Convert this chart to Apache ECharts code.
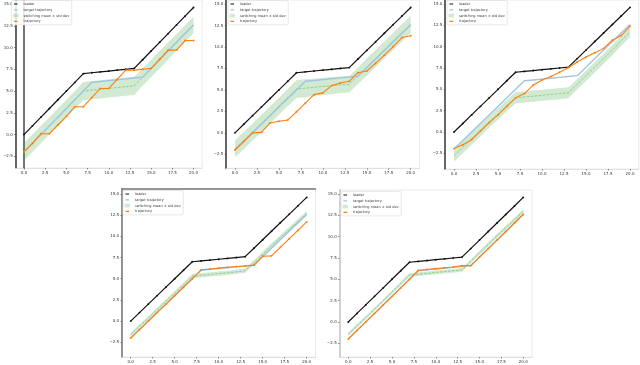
<!DOCTYPE html>
<html><head><meta charset="utf-8">
<script src="https://cdn.jsdelivr.net/npm/echarts@6/dist/echarts.min.js"></script>
<style>html,body{margin:0;padding:0;background:#fff}#c{width:640px;height:365px}</style>
</head><body><div id="c"></div>
<script>
// ---- data ----
const T = [0,1,2,3,4,5,6,7,8,9,10,11,12,13,14,15,16,17,18,19,20];
const xTicks = [0,2.5,5,7.5,10,12.5,15,17.5,20];
const yTicks = [-2.5,0,2.5,5,7.5,10,12.5,15];
const legendNames = ['leader','target trajectory','switching mean ± std dev','trajectory'];

const leader = [0,1,2,3,4,5,6,7,7.1,7.2,7.3,7.4,7.5,7.6,8.6,9.6,10.6,11.6,12.6,13.6,14.6];
const target = [-2,-1,0,1,2,3,4,5,6,6.1,6.2,6.3,6.4,6.5,6.6,7.6,8.6,9.6,10.6,11.6,12.6];

const mean1 = [-2,-1,0,1,2,3,4,5,5.1,5.2,5.3,5.4,5.5,5.6,6.6,7.6,8.6,9.6,10.6,11.6,12.6];
const std1  = [1.0,1.0,1.0,1.0,1.0,1.0,1.0,1.05,1.05,1.05,1.05,1.05,1.05,1.05,1.0,1.0,1.0,1.0,0.95,0.95,0.95];
const traj1 = [-2.0,-1.0,0.1,0.1,1.1,2.1,3.2,3.2,4.25,5.3,5.3,6.35,7.4,7.4,7.5,7.6,8.65,9.7,9.7,10.8,10.8];

const mean2 = [-1.85,-0.9,0.1,1.1,2.1,3.1,4.1,5.1,5.2,5.3,5.4,5.5,5.6,5.65,6.65,7.65,8.65,9.65,10.65,11.65,12.65];
const std2  = [1.0,1.0,1.0,1.0,1.0,1.0,1.0,1.05,1.05,1.0,1.0,1.0,0.95,0.95,0.95,1.0,1.0,1.0,1.0,1.0,1.0];
const traj2 = [-2.0,-1.0,0.0,0.05,1.15,1.35,1.5,2.45,3.45,4.45,4.65,5.5,5.8,6.0,7.0,7.2,8.1,9.05,10.05,11.1,11.3];

const mean3 = [-2.8,-1.8,-0.8,0.2,1.2,2.1,3.1,4.0,4.1,4.2,4.3,4.4,4.5,4.6,5.6,6.6,7.6,8.6,9.6,10.7,11.7];
const std3  = [0.7,0.7,0.7,0.7,0.68,0.68,0.66,0.65,0.65,0.65,0.65,0.65,0.65,0.65,0.62,0.62,0.62,0.6,0.6,0.6,0.6];
const traj3 = [-1.95,-1.5,-0.9,0.1,1.1,2.0,3.0,4.0,4.5,5.5,6.1,6.5,7.0,7.55,8.2,8.8,9.3,9.8,10.75,11.3,12.4];

const mean4 = [-1.6,-0.6,0.35,1.35,2.35,3.3,4.3,5.3,5.4,5.5,5.6,5.7,5.8,5.95,6.9,7.9,8.9,9.85,10.8,11.75,12.7];
const std4  = [0.22,0.22,0.22,0.23,0.23,0.24,0.24,0.25,0.25,0.25,0.25,0.25,0.25,0.25,0.27,0.28,0.28,0.28,0.3,0.3,0.3];
const traj4 = [-2,-1,0,1,2,3,4,5,6.05,6.15,6.25,6.35,6.45,6.5,6.6,7.65,7.7,8.7,9.7,10.7,11.7];

const mean5 = [-1.45,-0.45,0.5,1.5,2.5,3.5,4.5,5.5,5.6,5.7,5.8,5.9,6.0,6.1,7.1,8.1,9.1,10.1,11.05,12.0,12.95];
const std5  = [0.2,0.2,0.2,0.2,0.2,0.2,0.22,0.22,0.22,0.22,0.22,0.22,0.22,0.22,0.22,0.22,0.24,0.24,0.24,0.24,0.25];
const traj5 = [-2,-1,0,1,2,3,4,5,6.05,6.15,6.25,6.35,6.45,6.6,6.6,7.6,8.6,9.6,10.6,11.6,12.6];

// ---- layout / styles ----
const FONT = 'DejaVu Sans';
const C_LEADER = '#111111', C_TARGET = '#9fc5e0', C_TRAJ = '#ff7f0e';
const C_FILL = 'rgba(44,160,44,0.22)', C_MEAN = 'rgba(44,160,44,0.5)';
const LINE_ICON = 'path://M0,0L0.001,0L0,0.001Z M0,3.4L10,3.4L10,6.6L0,6.6Z M10,10L9.999,10L10,9.999Z';

const panels = [
  {grid:{left:10, top:0, width:192, height:168}, y:[-3.84,15.46], mean:mean1, std:std1, traj:traj1, leg:[11.5,0.5], left:'#555'},
  {grid:{left:226.2, top:0, width:193.3, height:168.3}, y:[-4.13,15.47], mean:mean2, std:std2, traj:traj2, leg:[228,0.5], left:'#555'},
  {grid:{left:445.2, top:0, width:193.6, height:169}, y:[-4.34,15.47], mean:mean3, std:std3, traj:traj3, leg:[447,0.5], left:'#555'},
  {grid:{left:121.9, top:189, width:193.6, height:168}, y:[-4.24,15.59], mean:mean4, std:std4, traj:traj4, leg:[123,190.5], left:'#888'},
  {grid:{left:339.5, top:190, width:192.5, height:167}, y:[-4.11,15.47], mean:mean5, std:std5, traj:traj5, leg:[341,191.5], left:'#cfcfcf'}
];

const pairs = ys => T.map((t,i)=>[t, ys[i]]);
const fmt = v => (v < 0 ? '\u2212' : '') + Math.abs(v).toFixed(1);

const grids = [], xAxes = [], yAxes = [], series = [], legends = [];
panels.forEach((p,i) => {
  grids.push(Object.assign({show:true, borderColor:'#e4e4e4', borderWidth:0.8, containLabel:false}, p.grid));
  xAxes.push({type:'value', gridIndex:i, min:-1, max:21,
    axisLine:{show:true, onZero:false, lineStyle:{color:'#dcdcdc', width:0.8}},
    axisTick:{show:true, customValues:xTicks, length:1.5, lineStyle:{color:'#444', width:0.6}},
    axisLabel:{customValues:xTicks, formatter:v=>v.toFixed(1), fontSize:4, margin:2.8, color:'#333', fontFamily:FONT},
    splitLine:{show:false}});
  yAxes.push({type:'value', gridIndex:i, min:p.y[0], max:p.y[1],
    axisLine:{show:true, onZero:false, lineStyle:{color:p.left, width:1.8}},
    axisTick:{show:true, customValues:yTicks, length:1.5, lineStyle:{color:'#444', width:0.6}},
    axisLabel:{customValues:yTicks, formatter:fmt, fontSize:4, margin:2.8, color:'#333', fontFamily:FONT},
    splitLine:{show:false}});
  const bandData = T.map((t,k)=>[t, p.mean[k] - p.std[k], p.mean[k] + p.std[k]]);
  const base = {xAxisIndex:i, yAxisIndex:i, animation:false, silent:true};
  series.push(Object.assign({}, base, {type:'custom', name:'switching mean ± std dev', data:bandData, clip:true,
    encode:{x:0, y:[1,2]}, itemStyle:{color:C_FILL}, z:2,
    renderItem:(params, api) => {
      if (params.dataIndex !== 0) return null;
      const up = [], dn = [];
      for (let k = 0; k < bandData.length; k++) {
        up.push(api.coord([bandData[k][0], bandData[k][2]]));
        dn.push(api.coord([bandData[k][0], bandData[k][1]]));
      }
      return {type:'polygon', shape:{points:up.concat(dn.reverse())}, style:{fill:C_FILL}};
    }}));
  series.push(Object.assign({}, base, {type:'line', name:'_mean'+i, data:pairs(p.mean), symbol:'none',
    lineStyle:{color:C_MEAN, width:0.8, type:[2.5,1.5]}, z:3}));
  series.push(Object.assign({}, base, {type:'line', name:'target trajectory', data:pairs(target), symbol:'none',
    lineStyle:{color:C_TARGET, width:1.4}, itemStyle:{color:C_TARGET}, z:4}));
  series.push(Object.assign({}, base, {type:'line', name:'leader', data:pairs(leader), symbol:'circle', symbolSize:1.9, showSymbol:true,
    lineStyle:{color:C_LEADER, width:1.2}, itemStyle:{color:C_LEADER}, z:5}));
  series.push(Object.assign({}, base, {type:'line', name:'trajectory', data:pairs(p.traj), symbol:'circle', symbolSize:1.9, showSymbol:true,
    lineStyle:{color:C_TRAJ, width:1.1}, itemStyle:{color:C_TRAJ}, z:6}));
  legends.push({show:true, orient:'vertical', left:p.leg[0], top:p.leg[1], itemWidth:5.5, itemHeight:3.6, itemGap:1.8,
    padding:[1.5,2.5,1.5,1.5], backgroundColor:'rgba(255,255,255,0.85)', borderColor:'#d8d8d8', borderWidth:0.6, borderRadius:1.5,
    selectedMode:false, textStyle:{fontSize:3.5, color:'#444', fontFamily:FONT},
    data:[
      {name:'leader', icon:LINE_ICON, itemStyle:{color:C_LEADER, borderWidth:0}},
      {name:'target trajectory', icon:LINE_ICON, itemStyle:{color:C_TARGET, borderWidth:0}},
      {name:'switching mean ± std dev', icon:'rect', itemStyle:{color:C_FILL, borderWidth:0}},
      {name:'trajectory', icon:LINE_ICON, itemStyle:{color:C_TRAJ, borderWidth:0}}
    ]});
});
// extra spines: right of panel 1, top of panel 4
yAxes.push({type:'value', gridIndex:0, position:'right', min:panels[0].y[0], max:panels[0].y[1],
  axisLine:{show:true, lineStyle:{color:'#666', width:1.8}}, axisTick:{show:false}, axisLabel:{show:false}, splitLine:{show:false}});
xAxes.push({type:'value', gridIndex:3, position:'top', min:-1, max:21,
  axisLine:{show:true, onZero:false, lineStyle:{color:'#777', width:1.5}}, axisTick:{show:false}, axisLabel:{show:false}, splitLine:{show:false}});

const chart = echarts.init(document.getElementById('c'), null, {renderer:'canvas'});
chart.setOption({animation:false, backgroundColor:'#fff', grid:grids, xAxis:xAxes, yAxis:yAxes, series:series, legend:legends});
</script>
</body></html>
